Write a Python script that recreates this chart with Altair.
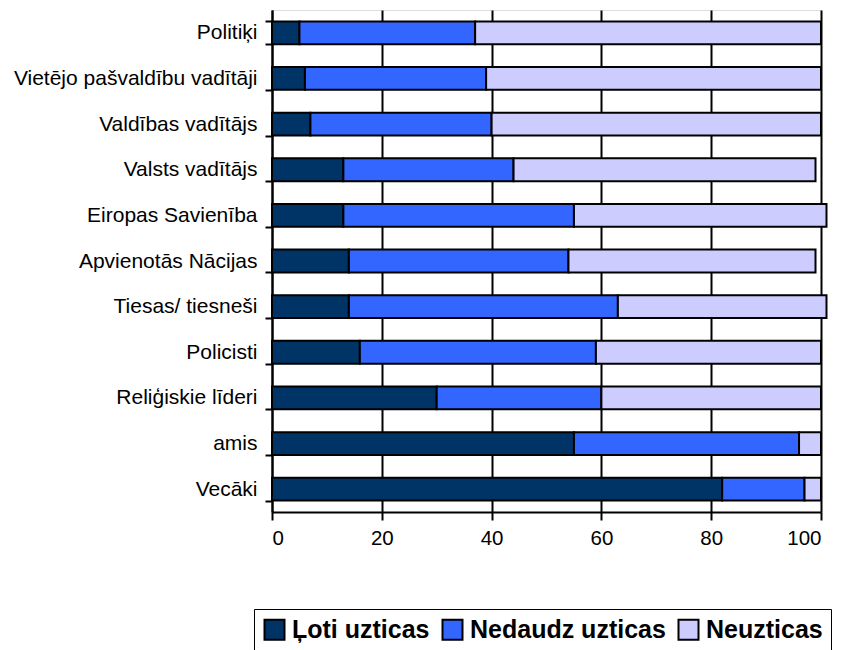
import altair as alt
import pandas as pd

categories = ["Politiķi", "Vietējo pašvaldību vadītāji", "Valdības vadītājs", "Valsts vadītājs",
              "Eiropas Savienība", "Apvienotās Nācijas", "Tiesas/ tiesneši", "Policisti",
              "Reliģiskie līderi", "amis", "Vecāki"]
series = ["Ļoti uzticas", "Nedaudz uzticas", "Neuzticas"]
loti = [5, 6, 7, 13, 13, 14, 14, 16, 30, 55, 82]
nedaudz = [32, 33, 33, 31, 42, 40, 49, 43, 30, 41, 15]
neuz = [63, 61, 60, 55, 46, 45, 38, 41, 40, 4, 3]
colors = ["#003366", "#3366FF", "#CCCCFF"]
x_ticks = [0, 20, 40, 60, 80, 100]

rows = []
for i, c in enumerate(categories):
    for j, (s, vals) in enumerate(zip(series, [loti, nedaudz, neuz])):
        rows.append({"cat": c, "series": s, "value": vals[i], "ord": j})
df = pd.DataFrame(rows)

chart = alt.Chart(df).mark_bar(stroke="black", strokeWidth=2, clip=False).encode(
    y=alt.Y("cat:N", sort=categories, title=None,
            scale=alt.Scale(paddingInner=0.5, paddingOuter=0.25),
            axis=alt.Axis(tickBand="extent", labelFont="Liberation Sans", labelFontSize=21,
                          labelColor="black", domainColor="black", domainWidth=2,
                          tickColor="black", tickWidth=2, tickSize=7, labelPadding=8,
                          labelLimit=400, grid=False)),
    x=alt.X("value:Q", stack="zero", title=None,
            scale=alt.Scale(domain=[0, 100], nice=False),
            axis=alt.Axis(values=x_ticks, labelFont="Liberation Sans", labelFontSize=20.5,
                          labelColor="black", domainColor="black", domainWidth=2,
                          tickColor="black", tickWidth=2, tickSize=8, labelPadding=8,
                          grid=True, gridColor="black", gridWidth=2, gridOpacity=1)),
    color=alt.Color("series:N", sort=series,
                    scale=alt.Scale(domain=series, range=colors),
                    legend=alt.Legend(title=None, orient="none", legendX=-18, legendY=599,
                                      direction="horizontal", columns=3,
                                      symbolType="square", symbolSize=400,
                                      symbolStrokeColor="black", symbolStrokeWidth=2,
                                      symbolOpacity=1,
                                      labelFont="Liberation Sans", labelFontSize=25,
                                      labelFontWeight="bold", labelColor="black",
                                      labelOffset=5, columnPadding=8, labelLimit=400,
                                      strokeColor="black", padding=8)),
    order=alt.Order("ord:Q"),
).properties(
    width=549, height=502,
    autosize=alt.AutoSizeParams(type="none"),
    padding={"left": 264, "top": 2, "right": 13, "bottom": 138},
).configure_view(
    stroke="#888888", strokeWidth=2
).configure_legend(
    strokeWidth=2
).configure(background="white")

chart.save("out.html", embed_options={"renderer": "svg", "actions": False})
